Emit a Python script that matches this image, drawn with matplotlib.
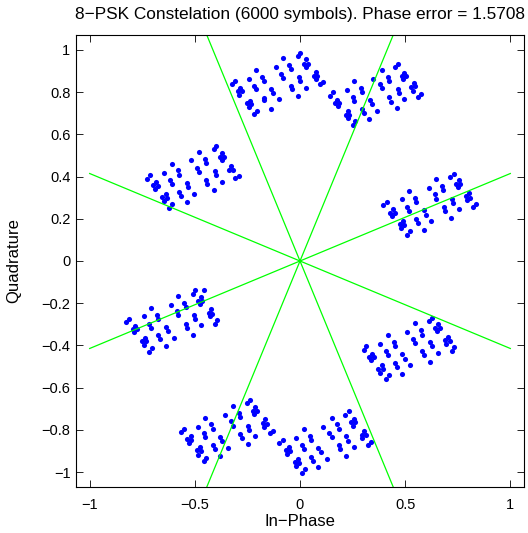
import numpy as np
import matplotlib
matplotlib.use("Agg")
import matplotlib.pyplot as plt

plt.rcParams['font.family'] = ['Liberation Sans', 'DejaVu Sans']

# ---- data (received symbols, grouped by constellation region) ----
top_x = [-0.325, -0.311, -0.296, -0.283, -0.288, -0.275, -0.244, -0.209, -0.217, -0.209,
         -0.252, -0.236, -0.233, -0.244, -0.220, -0.206, -0.181, -0.173, -0.173, -0.170,
         -0.138, -0.130, -0.138, -0.115, -0.102, -0.079, -0.088, -0.080, -0.052, -0.044,
         -0.044, -0.039, -0.008, -0.005, 0.000, -0.011, 0.002, 0.030, 0.020, 0.038,
         0.030, 0.030, 0.074, 0.065, 0.083, 0.074, 0.094, 0.110,
         0.145, 0.157, 0.176, 0.168, 0.187, 0.179, 0.222, 0.258, 0.250, 0.255,
         0.226, 0.219, 0.234, 0.228, 0.250, 0.263, 0.289, 0.294, 0.297, 0.302,
         0.333, 0.341, 0.329, 0.349, 0.366, 0.388, 0.381, 0.388, 0.417, 0.425,
         0.425, 0.432, 0.459, 0.464, 0.470, 0.451, 0.468, 0.495, 0.483, 0.503,
         0.492, 0.495, 0.530, 0.549, 0.535, 0.542, 0.561, 0.577]
top_y = [0.836, 0.853, 0.804, 0.820, 0.788, 0.804, 0.864, 0.904, 0.829, 0.812,
         0.746, 0.758, 0.742, 0.728, 0.697, 0.712, 0.872, 0.853, 0.774, 0.761,
         0.814, 0.795, 0.722, 0.919, 0.765, 0.959, 0.886, 0.867, 0.930, 0.908,
         0.828, 0.812, 0.780, 0.870, 0.851, 0.972, 0.984, 0.956, 0.935, 0.935,
         0.920, 0.821, 0.896, 0.877, 0.877, 0.862, 0.836, 0.848,
         0.782, 0.798, 0.761, 0.746, 0.749, 0.733, 0.809, 0.851, 0.777, 0.758,
         0.709, 0.690, 0.690, 0.675, 0.646, 0.662, 0.820, 0.798, 0.722, 0.703,
         0.761, 0.741, 0.670, 0.864, 0.709, 0.904, 0.836, 0.817, 0.872, 0.851,
         0.777, 0.754, 0.725, 0.814, 0.795, 0.919, 0.935, 0.888, 0.875, 0.877,
         0.860, 0.769, 0.825, 0.828, 0.806, 0.844, 0.777, 0.793]

ul_x = [-0.726, -0.712, -0.697, -0.683, -0.676, -0.689, -0.645, -0.610, -0.618, -0.610,
        -0.654, -0.638, -0.632, -0.646, -0.623, -0.607, -0.582, -0.574, -0.574, -0.567,
        -0.539, -0.532, -0.539, -0.516, -0.503, -0.480, -0.489, -0.481, -0.453, -0.445,
        -0.445, -0.440, -0.409, -0.406, -0.401, -0.410, -0.398, -0.371, -0.381, -0.362,
        -0.371, -0.371, -0.327, -0.338, -0.317, -0.307, -0.291]
ul_y = [0.390, 0.409, 0.360, 0.376, 0.355, 0.341, 0.417, 0.461, 0.385, 0.366,
        0.303, 0.316, 0.299, 0.283, 0.251, 0.269, 0.430, 0.409, 0.327, 0.310,
        0.370, 0.351, 0.280, 0.477, 0.319, 0.517, 0.441, 0.422, 0.485, 0.466,
        0.385, 0.366, 0.335, 0.427, 0.406, 0.528, 0.543, 0.512, 0.493, 0.493,
        0.477, 0.374, 0.452, 0.433, 0.431, 0.392, 0.404]

ur_x = [0.396, 0.412, 0.428, 0.443, 0.451, 0.436, 0.483, 0.517, 0.509, 0.517,
        0.475, 0.491, 0.494, 0.480, 0.509, 0.522, 0.546, 0.553, 0.553, 0.561,
        0.588, 0.598, 0.588, 0.612, 0.624, 0.648, 0.640, 0.648, 0.675, 0.682,
        0.684, 0.690, 0.719, 0.722, 0.726, 0.715, 0.730, 0.755, 0.742, 0.761,
        0.750, 0.755, 0.789, 0.805, 0.810, 0.794, 0.821, 0.836]
ur_y = [0.264, 0.280, 0.229, 0.245, 0.229, 0.213, 0.292, 0.330, 0.256, 0.237,
        0.177, 0.190, 0.172, 0.156, 0.125, 0.142, 0.300, 0.280, 0.200, 0.182,
        0.240, 0.219, 0.148, 0.346, 0.190, 0.387, 0.316, 0.295, 0.355, 0.335,
        0.256, 0.235, 0.204, 0.295, 0.276, 0.398, 0.414, 0.382, 0.363, 0.363,
        0.348, 0.248, 0.306, 0.322, 0.300, 0.287, 0.256, 0.272]

ll_x = [-0.827, -0.811, -0.796, -0.783, -0.775, -0.788, -0.744, -0.709, -0.717, -0.709,
        -0.751, -0.736, -0.731, -0.744, -0.717, -0.704, -0.681, -0.673, -0.673, -0.665,
        -0.637, -0.629, -0.638, -0.615, -0.601, -0.579, -0.586, -0.579, -0.552, -0.544,
        -0.542, -0.536, -0.508, -0.505, -0.500, -0.511, -0.497, -0.458, -0.472, -0.484,
        -0.466, -0.476, -0.472, -0.434, -0.421, -0.417, -0.429, -0.406, -0.393]
ll_y = [-0.289, -0.273, -0.324, -0.308, -0.324, -0.336, -0.262, -0.223, -0.297, -0.316,
        -0.379, -0.365, -0.381, -0.400, -0.431, -0.412, -0.254, -0.273, -0.352, -0.371,
        -0.313, -0.332, -0.403, -0.207, -0.363, -0.166, -0.239, -0.257, -0.197, -0.218,
        -0.297, -0.316, -0.348, -0.257, -0.276, -0.155, -0.139, -0.136, -0.171, -0.190,
        -0.190, -0.205, -0.305, -0.245, -0.229, -0.250, -0.262, -0.297, -0.278]

lr_x = [0.302, 0.314, 0.330, 0.344, 0.352, 0.336, 0.380, 0.417, 0.409, 0.417,
        0.373, 0.388, 0.396, 0.380, 0.407, 0.423, 0.447, 0.454, 0.454, 0.462,
        0.487, 0.498, 0.487, 0.511, 0.525, 0.549, 0.538, 0.546, 0.574, 0.582,
        0.582, 0.590, 0.619, 0.619, 0.627, 0.613, 0.629, 0.656, 0.643, 0.664,
        0.651, 0.656, 0.690, 0.703, 0.711, 0.695, 0.722, 0.734]
lr_y = [-0.420, -0.404, -0.455, -0.439, -0.455, -0.471, -0.392, -0.352, -0.427, -0.447,
        -0.510, -0.494, -0.510, -0.529, -0.558, -0.542, -0.384, -0.403, -0.483, -0.502,
        -0.442, -0.463, -0.534, -0.336, -0.494, -0.294, -0.368, -0.387, -0.329, -0.348,
        -0.427, -0.447, -0.476, -0.384, -0.404, -0.284, -0.268, -0.300, -0.318, -0.318,
        -0.332, -0.436, -0.376, -0.360, -0.379, -0.395, -0.427, -0.408]

bot_x = [-0.568, -0.552, -0.535, -0.520, -0.516, -0.528, -0.484, -0.450, -0.458, -0.450,
         -0.492, -0.476, -0.472, -0.484, -0.458, -0.445, -0.421, -0.414, -0.414, -0.406,
         -0.379, -0.371, -0.379, -0.355, -0.343, -0.319, -0.327, -0.319, -0.292, -0.285,
         -0.285, -0.277, -0.248, -0.248, -0.241, -0.252, -0.237, -0.214, -0.225, -0.204,
         -0.217, -0.212, -0.178, -0.167, -0.159, -0.173, -0.142, -0.130,
         -0.099, -0.083, -0.065, -0.052, -0.047, -0.060, -0.017, 0.019, 0.009, 0.019,
         -0.024, -0.008, -0.005, -0.017, 0.008, 0.022, 0.046, 0.053, 0.053, 0.061,
         0.086, 0.098, 0.086, 0.110, 0.126, 0.150, 0.140, 0.150, 0.176, 0.184,
         0.184, 0.192, 0.218, 0.220, 0.226, 0.216, 0.231, 0.255, 0.244, 0.263,
         0.251, 0.255, 0.294, 0.305, 0.313, 0.297, 0.321, 0.336]
bot_y = [-0.810, -0.795, -0.845, -0.829, -0.847, -0.861, -0.784, -0.742, -0.815, -0.834,
         -0.897, -0.882, -0.900, -0.918, -0.949, -0.932, -0.774, -0.795, -0.873, -0.892,
         -0.834, -0.853, -0.923, -0.727, -0.885, -0.687, -0.758, -0.779, -0.719, -0.739,
         -0.818, -0.837, -0.866, -0.779, -0.798, -0.673, -0.657, -0.692, -0.711, -0.711,
         -0.724, -0.829, -0.768, -0.750, -0.771, -0.784, -0.815, -0.803,
         -0.863, -0.847, -0.897, -0.882, -0.900, -0.913, -0.837, -0.795, -0.869, -0.889,
         -0.953, -0.937, -0.956, -0.972, -1.003, -0.987, -0.829, -0.847, -0.926, -0.945,
         -0.886, -0.905, -0.976, -0.784, -0.937, -0.742, -0.815, -0.834, -0.774, -0.795,
         -0.870, -0.889, -0.921, -0.829, -0.850, -0.727, -0.711, -0.747, -0.763, -0.763,
         -0.779, -0.882, -0.823, -0.807, -0.826, -0.837, -0.870, -0.855]

# decision boundary angles (degrees)
boundary_deg = [22.5, 67.5, 112.5, 157.5]
line_x = [-1.0, 1.0]

title = "8\u2212PSK Constelation (6000 symbols). Phase error = 1.5708"
xlabel = "In\u2212Phase"
ylabel = "Quadrature"
xticks = [-1, -0.5, 0, 0.5, 1]
xticklabels = ['\u22121', '\u22120.5', '0', '0.5', '1']
yticks = [-1, -0.8, -0.6, -0.4, -0.2, 0, 0.2, 0.4, 0.6, 0.8, 1]
yticklabels = ['\u22121', '\u22120.8', '\u22120.6', '\u22120.4', '\u22120.2', '0',
               '0.2', '0.4', '0.6', '0.8', '1']

# ---- figure ----
W, H = 528, 533
AX_L, AX_R, AX_T, AX_B = 76, 524, 35, 487
fig = plt.figure(figsize=(W / 100, H / 100), dpi=100)
ax = fig.add_axes([AX_L / W, 1 - AX_B / H, (AX_R - AX_L) / W, (AX_B - AX_T) / H])

all_x = top_x + ul_x + ur_x + ll_x + lr_x + bot_x
all_y = top_y + ul_y + ur_y + ll_y + lr_y + bot_y
ax.plot(all_x, all_y, 'o', color=(0, 0, 1), ms=3.7, mew=0, linestyle='none')

for d in boundary_deg:
    t = np.tan(np.deg2rad(d))
    ax.plot(line_x, [t * v for v in line_x], color=(0, 1, 0), lw=0.9)

ax.set_xlim(-1.065, 1.065)
ax.set_ylim(-1.07, 1.07)
ax.set_xticks(xticks)
ax.set_xticklabels(xticklabels)
ax.set_yticks(yticks)
ax.set_yticklabels(yticklabels)
ax.tick_params(direction='in', top=True, right=True, length=5, width=0.6,
               labelsize=10.5, colors='black')
ax.tick_params(axis='x', pad=8)
ax.tick_params(axis='y', pad=4)
for s in ax.spines.values():
    s.set_linewidth(0.8)
    s.set_color('black')

axh = AX_B - AX_T
axw = AX_R - AX_L
ax.text(0.5, 1 + (AX_T - 14) / axh, title, transform=ax.transAxes,
        ha='center', va='center', fontsize=12.4)
ax.set_xlabel(xlabel, fontsize=12)
ax.xaxis.set_label_coords(0.5, -(522 - AX_B) / axh)
ax.xaxis.label.set_va('center')
ax.set_ylabel(ylabel, fontsize=12)
ax.yaxis.set_label_coords(-(AX_L - 14) / axw, 0.5)
ax.yaxis.label.set_va('center')

fig.savefig("out.png", dpi=100, facecolor='white')
